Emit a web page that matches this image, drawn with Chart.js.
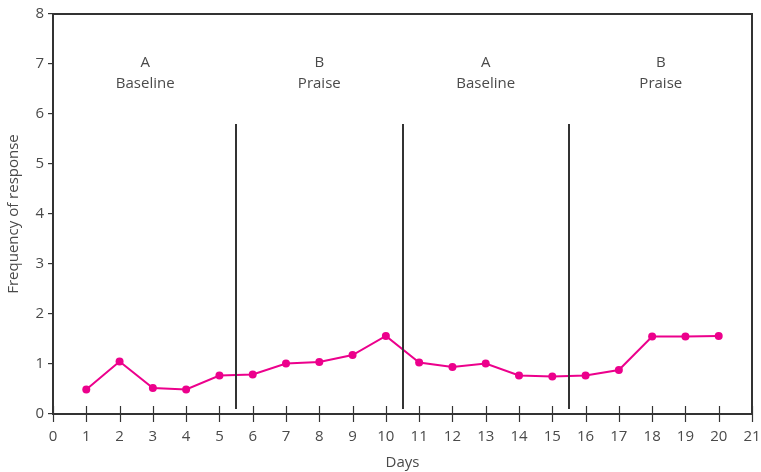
<!DOCTYPE html>
<html>
<head>
<meta charset="utf-8">
<script src="https://cdn.jsdelivr.net/npm/chart.js@4.4.1/dist/chart.umd.min.js"></script>
<style>
  html, body { margin: 0; padding: 0; background: #ffffff; }
  #wrap { width: 761px; height: 472px; }
</style>
</head>
<body>
<div id="wrap"><canvas id="c" width="761" height="472"></canvas></div>
<script>
// ---- data ----
const days = [1, 2, 3, 4, 5, 6, 7, 8, 9, 10, 11, 12, 13, 14, 15, 16, 17, 18, 19, 20];
const frequency = [0.49, 1.05, 0.52, 0.49, 0.77, 0.79, 1.01, 1.04, 1.18, 1.56, 1.03, 0.94, 1.01, 0.77, 0.75, 0.77, 0.88, 1.55, 1.55, 1.56];
const phaseChanges = [5.5, 10.5, 15.5];
const phaseLineRange = [0.1, 5.8];
const phaseLetters = ['A', 'B', 'A', 'B'];
const phaseNames = ['Baseline', 'Praise', 'Baseline', 'Praise'];
const phaseLabelX = [2.77, 8, 13, 18.26];
const phaseLetterY = 7.02;
const phaseNameY = 6.6;
const xTicks = [0, 1, 2, 3, 4, 5, 6, 7, 8, 9, 10, 11, 12, 13, 14, 15, 16, 17, 18, 19, 20, 21];
const yTicks = [0, 1, 2, 3, 4, 5, 6, 7, 8];

const FONT = '"Open Sans", "Noto Sans", sans-serif';
const TEXT = '#4a4a4a';
const INK = '#333333';
const MAGENTA = '#EC008C';
const WEIGHT = '400';

const framePlugin = {
  id: 'frame',
  afterDatasetsDraw(chart) {
    const { ctx, chartArea: a, scales: { x, y } } = chart;
    ctx.save();
    ctx.strokeStyle = INK;
    ctx.lineWidth = 2;
    phaseChanges.forEach(v => {
      const px = Math.round(x.getPixelForValue(v));
      ctx.beginPath();
      ctx.moveTo(px, y.getPixelForValue(phaseLineRange[0]));
      ctx.lineTo(px, y.getPixelForValue(phaseLineRange[1]));
      ctx.stroke();
    });
    ctx.lineWidth = 1.2;
    xTicks.forEach(v => {
      const px = Math.round(x.getPixelForValue(v)) + 0.5;
      ctx.beginPath();
      ctx.moveTo(px, a.bottom - 8);
      ctx.lineTo(px, a.bottom + 8);
      ctx.stroke();
    });
    ctx.lineWidth = 2;
    ctx.strokeRect(a.left, a.top, a.right - a.left, a.bottom - a.top);
    ctx.fillStyle = TEXT;
    ctx.font = WEIGHT + ' 15px ' + FONT;
    ctx.textAlign = 'center';
    ctx.textBaseline = 'middle';
    phaseLabelX.forEach((v, i) => {
      const px = x.getPixelForValue(v);
      ctx.fillText(phaseLetters[i], px, y.getPixelForValue(phaseLetterY));
      ctx.fillText(phaseNames[i], px, y.getPixelForValue(phaseNameY));
    });
    ctx.restore();
  }
};

new Chart(document.getElementById('c'), {
  type: 'line',
  data: {
    datasets: [{
      data: days.map((d, i) => ({ x: d, y: frequency[i] })),
      borderColor: MAGENTA,
      backgroundColor: MAGENTA,
      borderWidth: 2,
      pointRadius: 4,
      pointHoverRadius: 4,
      pointBorderWidth: 0,
      tension: 0,
      fill: false
    }]
  },
  options: {
    responsive: false,
    animation: false,
    devicePixelRatio: 1,
    layout: { padding: { top: 14, right: 9, left: 0, bottom: 0 } },
    plugins: { legend: { display: false }, tooltip: { enabled: false } },
    scales: {
      x: {
        type: 'linear',
        min: 0, max: 21,
        afterBuildTicks: s => { s.ticks = xTicks.map(v => ({ value: v })); },
        afterFit: s => { s.height = 58; s.paddingLeft = 0; s.paddingRight = 0; },
        grid: { display: false, drawTicks: false },
        border: { display: false },
        ticks: { padding: 14, color: TEXT, font: { family: FONT, size: 15, weight: WEIGHT }, maxRotation: 0, autoSkip: false },
        title: { display: true, text: 'Days', color: TEXT, font: { family: FONT, size: 15, weight: WEIGHT }, padding: { top: 0, bottom: 0 } }
      },
      y: {
        type: 'linear',
        min: 0, max: 8,
        afterBuildTicks: s => { s.ticks = yTicks.map(v => ({ value: v })); },
        afterFit: s => { s.width = 53; s.paddingTop = 0; s.paddingBottom = 0; },
        grid: { drawOnChartArea: false, drawTicks: true, tickLength: 5, color: INK, lineWidth: 1.2 },
        border: { display: false },
        ticks: { padding: 4, color: TEXT, font: { family: FONT, size: 15, weight: WEIGHT } },
        title: { display: true, text: 'Frequency of response', color: TEXT, font: { family: FONT, size: 15, weight: WEIGHT }, padding: { top: 5, bottom: 0 } }
      }
    }
  },
  plugins: [framePlugin]
});
</script>
</body>
</html>
